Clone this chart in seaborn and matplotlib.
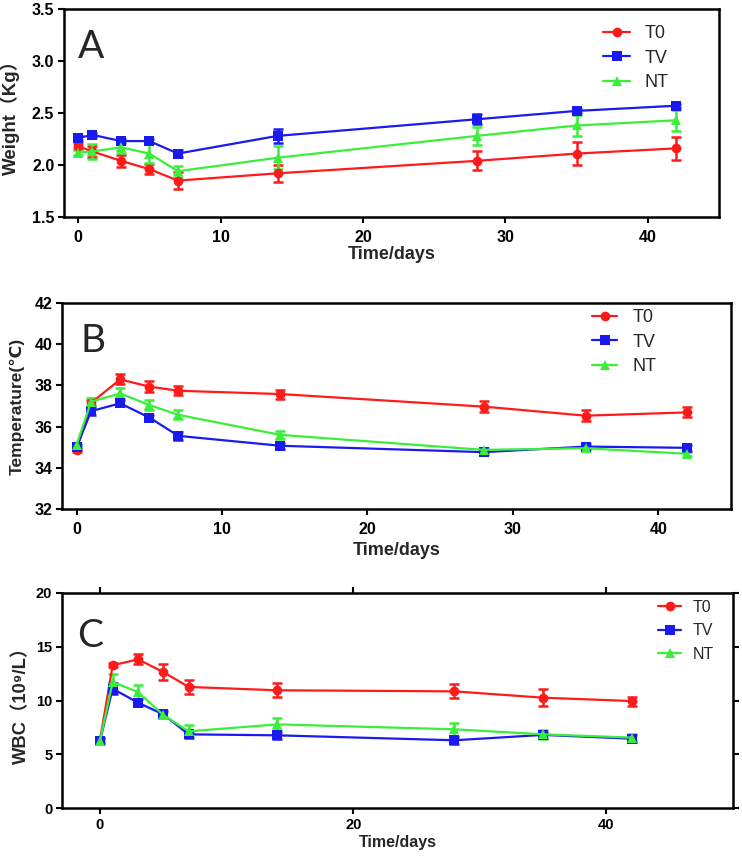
import matplotlib
matplotlib.use("Agg")
import matplotlib.pyplot as plt
import numpy as np
import pandas as pd
import seaborn as sns

# ---------------- data ----------------
days = [0, 1, 3, 5, 7, 14, 28, 35, 42]
groups = ["T0", "TV", "NT"]

weight_T0 = [2.18, 2.13, 2.04, 1.96, 1.85, 1.92, 2.04, 2.11, 2.16]
weight_TV = [2.26, 2.29, 2.23, 2.23, 2.11, 2.28, 2.44, 2.52, 2.57]
weight_NT = [2.12, 2.13, 2.17, 2.11, 1.94, 2.07, 2.28, 2.38, 2.43]
weight_T0_err = [0.03, 0.05, 0.055, 0.05, 0.08, 0.08, 0.09, 0.11, 0.11]
weight_TV_err = [0.02, 0.02, 0.02, 0.02, 0.03, 0.065, 0.05, 0.02, 0.02]
weight_NT_err = [0.02, 0.075, 0.055, 0.095, 0.055, 0.11, 0.09, 0.1, 0.1]

temp_T0 = [34.87, 37.15, 38.29, 37.94, 37.74, 37.58, 36.97, 36.53, 36.69]
temp_TV = [34.99, 36.75, 37.13, 36.44, 35.55, 35.07, 34.76, 35.03, 34.97]
temp_NT = [35.11, 37.21, 37.61, 37.05, 36.57, 35.60, 34.87, 34.95, 34.68]
temp_T0_err = [0.10, 0.15, 0.24, 0.25, 0.22, 0.22, 0.28, 0.28, 0.24]
temp_TV_err = [0.12, 0.20, 0.15, 0.12, 0.20, 0.15, 0.10, 0.12, 0.15]
temp_NT_err = [0.10, 0.20, 0.25, 0.22, 0.22, 0.20, 0.10, 0.15, 0.10]

wbc_T0 = [6.30, 13.27, 13.83, 12.65, 11.26, 10.95, 10.85, 10.26, 9.95]
wbc_TV = [6.25, 11.10, 9.80, 8.71, 6.85, 6.76, 6.30, 6.80, 6.45]
wbc_NT = [6.25, 11.72, 10.79, 8.65, 7.13, 7.78, 7.32, 6.85, 6.55]
wbc_T0_err = [0.20, 0.20, 0.45, 0.78, 0.65, 0.65, 0.65, 0.78, 0.42]
wbc_TV_err = [0.25, 0.50, 0.30, 0.35, 0.35, 0.30, 0.30, 0.30, 0.30]
wbc_NT_err = [0.25, 0.70, 0.62, 0.30, 0.55, 0.55, 0.60, 0.45, 0.35]

panels = [
    dict(letter="A", ylabel="Weight（Kg）", vals=[weight_T0, weight_TV, weight_NT],
         errs=[weight_T0_err, weight_TV_err, weight_NT_err],
         ylim=(1.5, 3.5), yticks=[1.5, 2.0, 2.5, 3.0, 3.5], ytl=["1.5", "2.0", "2.5", "3.0", "3.5"],
         xlim=(-1, 45), xticks=[0, 10, 20, 30, 40]),
    dict(letter="B", ylabel="Temperature(℃)", vals=[temp_T0, temp_TV, temp_NT],
         errs=[temp_T0_err, temp_TV_err, temp_NT_err],
         ylim=(32, 42), yticks=[32, 34, 36, 38, 40, 42], ytl=["32", "34", "36", "38", "40", "42"],
         xlim=(-1, 45), xticks=[0, 10, 20, 30, 40]),
    dict(letter="C", ylabel="WBC（10⁹/L）", vals=[wbc_T0, wbc_TV, wbc_NT],
         errs=[wbc_T0_err, wbc_TV_err, wbc_NT_err],
         ylim=(0, 20), yticks=[0, 5, 10, 15, 20], ytl=["0", "5", "10", "15", "20"],
         xlim=(-3, 50), xticks=[0, 20, 40]),
]

# ---------------- style ----------------
sns.set_style("ticks")
plt.rcParams["font.family"] = ["Liberation Sans", "DejaVu Sans", "Noto Sans CJK SC"]

colors = {"T0": "#FF1A1A", "TV": "#1A1AF0", "NT": "#3AEE3A"}
markers = {"T0": "o", "TV": "s", "NT": "^"}

fig = plt.figure(figsize=(7.42, 8.56), dpi=100)
W, H = 742, 856
# axes boxes in pixels: left, right, top, bottom
boxes = [(64, 719, 9, 217), (62, 731, 303, 509), (62, 733, 593, 808)]
letter_pos = [(0.021, 0.764), (0.027, 0.762), (0.022, 0.749)]
ylab_x = [-0.067, -0.055, -0.048]
xlab_y = [-0.139, -0.160, -0.126]
tick_size = [11.5, 11.5, 10.5]
xpad = [5, 5, 3]
xlab_size = [13, 13, 11.5]
ylab_size = [13.5, 12.5, 13.2]
leg_size = [13, 13, 11.5]
leg_space = [0.42, 0.42, 0.52]
leg_hl = [1.5, 1.4, 1.45]
leg_tp = [0.78, 0.83, 0.7]
leg_anchor = [(603 / W, 1 - 25 / H), (592 / W, 1 - 309 / H), (658 / W, 1 - 600 / H)]

fam = ["Liberation Sans", "DejaVu Sans", "Noto Sans CJK SC"]

for i, p in enumerate(panels):
    l, r, t, b = boxes[i]
    ax = fig.add_axes([l / W, 1 - b / H, (r - l) / W, (b - t) / H])
    rows = []
    for g, v in zip(groups, p["vals"]):
        for d, val in zip(days, v):
            rows.append({"day": d, "value": val, "group": g})
    df = pd.DataFrame(rows)
    for g, v, e in zip(groups, p["vals"], p["errs"]):
        ax.errorbar(days, v, yerr=e, fmt="none", ecolor=colors[g], elinewidth=1.8,
                    capsize=3.5, capthick=1.8, zorder=2)
    sns.lineplot(data=df, x="day", y="value", hue="group", style="group",
                 hue_order=groups, style_order=groups, palette=colors, markers=markers,
                 dashes=False, linewidth=1.6, markersize=7, markeredgewidth=0,
                 ax=ax, zorder=3)
    ax.set_xlim(*p["xlim"])
    ax.set_ylim(*p["ylim"])
    ax.set_xticks(p["xticks"])
    ax.set_xticklabels([str(x) for x in p["xticks"]])
    ax.set_yticks(p["yticks"])
    ax.set_yticklabels(p["ytl"])
    for s in ax.spines.values():
        s.set_linewidth(1.8)
        s.set_color("black")
        s.set_visible(True)
    ax.tick_params(axis="both", direction="out", length=4.5, width=1.5,
                   labelsize=tick_size[i], colors="black")
    ax.tick_params(axis="x", pad=xpad[i])
    ax.tick_params(axis="y", pad=2.5)
    if p["letter"] == "C":
        ax.tick_params(top=True, right=True, labeltop=False, labelright=False)
    for lab in ax.get_xticklabels() + ax.get_yticklabels():
        lab.set_fontweight("bold")
    ax.set_xlabel("Time/days", fontsize=xlab_size[i], fontweight="bold", family=fam)
    ax.set_ylabel(p["ylabel"], fontsize=ylab_size[i], fontweight="bold", family=fam)
    ax.yaxis.set_label_coords(ylab_x[i], 0.5)
    ax.xaxis.set_label_coords(0.5, xlab_y[i])
    ax.text(letter_pos[i][0], letter_pos[i][1], p["letter"], transform=ax.transAxes,
            fontsize=28, family=["Lato", "DejaVu Sans"], ha="left", va="baseline")
    handles, labels = ax.get_legend_handles_labels()
    hmap = dict(zip(labels, handles))
    ax.legend([hmap[g] for g in groups], groups, loc="upper left",
              bbox_to_anchor=leg_anchor[i], bbox_transform=fig.transFigure,
              frameon=False, fontsize=leg_size[i], handlelength=leg_hl[i],
              handletextpad=leg_tp[i], labelspacing=leg_space[i],
              borderpad=0, borderaxespad=0)

fig.savefig("out.png", dpi=100)
